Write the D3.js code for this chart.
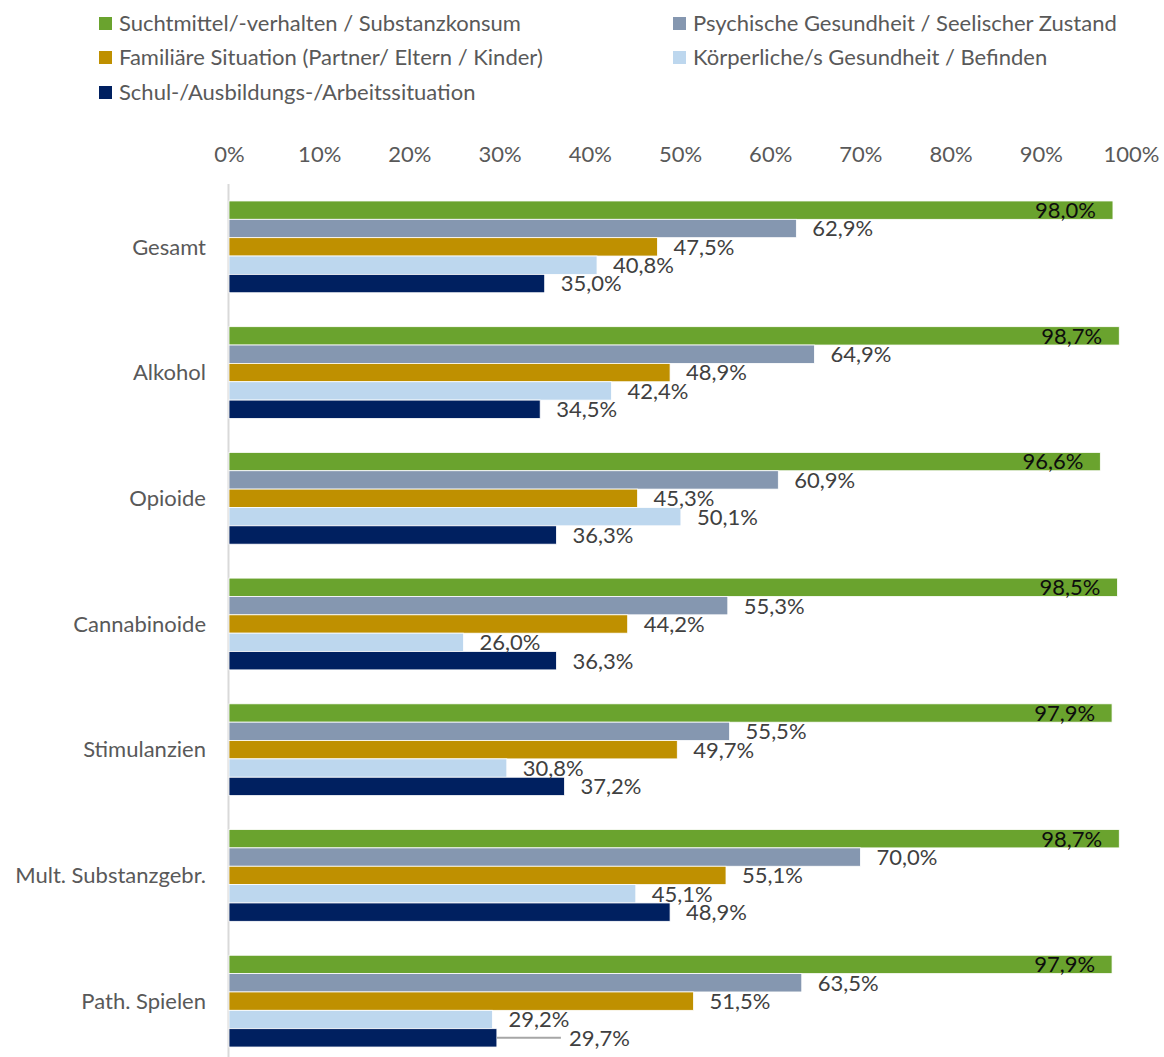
<!DOCTYPE html>
<html><head><meta charset="utf-8">
<script src="https://cdn.jsdelivr.net/npm/d3@7"></script>
<style>
body{margin:0;background:#fff;}
svg text{font-family:Lato,"Open Sans",sans-serif;}
</style></head>
<body><svg id="c" width="1164" height="1057"></svg>
<script>
const categories = ["Gesamt","Alkohol","Opioide","Cannabinoide","Stimulanzien","Mult. Substanzgebr.","Path. Spielen"];
const seriesNames = ["Suchtmittel/-verhalten / Substanzkonsum","Psychische Gesundheit / Seelischer Zustand","Familiäre Situation (Partner/ Eltern / Kinder)","Körperliche/s Gesundheit / Befinden","Schul-/Ausbildungs-/Arbeitssituation"];
const seriesColors = ["#6aa32e","#8597b0","#bf9000","#bdd7ee","#002060"];
const sucht      = [98.0, 98.7, 96.6, 98.5, 97.9, 98.7, 97.9];
const psychisch  = [62.9, 64.9, 60.9, 55.3, 55.5, 70.0, 63.5];
const familiaer  = [47.5, 48.9, 45.3, 44.2, 49.7, 55.1, 51.5];
const koerper    = [40.8, 42.4, 50.1, 26.0, 30.8, 45.1, 29.2];
const schule     = [35.0, 34.5, 36.3, 36.3, 37.2, 48.9, 29.7];
const seriesValues = [sucht, psychisch, familiaer, koerper, schule];
const tickValues = [0,10,20,30,40,50,60,70,80,90,100];

const svg = d3.select("#c");
const fmt = v => v.toFixed(1).replace(".", ",") + "%";
const fs = 22;

// legend
const legendPos = [[99,23.5],[673,23.5],[99,57.5],[673,57.5],[99,92.5]];
seriesNames.forEach((n,i)=>{
  const [lx,ly] = legendPos[i];
  svg.append("rect").attr("x",lx).attr("y",ly-6.5).attr("width",13).attr("height",13).attr("fill",seriesColors[i]);
  svg.append("text").attr("x",lx+20).attr("y",ly).attr("dy","0.35em")
    .attr("font-size",fs).attr("fill","#595959").text(n);
});

const x = d3.scaleLinear().domain([0,100]).range([229,1131]);
const y = d3.scaleBand().domain(categories).range([184,1064]).paddingInner(0.27).paddingOuter(0.135);
const yi = d3.scaleBand().domain(d3.range(5)).range([0,y.bandwidth()]);

// top axis
const ax = svg.append("g").attr("transform","translate(0,165)")
  .call(d3.axisTop(x).tickValues(tickValues).tickFormat(d=>d+"%").tickSize(0).tickPadding(0));
ax.select(".domain").remove();
ax.selectAll("text").attr("font-size",fs).attr("fill","#595959").attr("font-family","Lato,'Open Sans',sans-serif")
  .attr("dy","0").attr("y",-3);

// vertical axis line
svg.append("line").attr("x1",228.5).attr("x2",228.5).attr("y1",184).attr("y2",1057)
  .attr("stroke","#d9d9d9").attr("stroke-width",2);

// category labels
svg.append("g").selectAll("text").data(categories).join("text")
  .attr("x",206).attr("y",d=>y(d)+y.bandwidth()/2).attr("dy","0.35em")
  .attr("text-anchor","end").attr("font-size",fs).attr("fill","#595959").text(d=>d);

// bars
const g = svg.append("g");
seriesValues.forEach((vals,si)=>{
  g.selectAll(null).data(vals).join("rect")
    .attr("x",x(0)).attr("y",(d,ci)=>y(categories[ci])+yi(si))
    .attr("width",d=>x(d)-x(0)).attr("height",yi.bandwidth())
    .attr("fill",seriesColors[si]).attr("stroke","#fff").attr("stroke-width",0.8);
});

// labels
const moved = {cat:"Path. Spielen", series:4, shift:72};
seriesValues.forEach((vals,si)=>{
  vals.forEach((v,ci)=>{
    const cy = y(categories[ci])+yi(si)+yi.bandwidth()/2;
    if(si===0){
      svg.append("text").attr("x",x(v)-17).attr("y",cy).attr("dy","0.36em")
        .attr("text-anchor","end").attr("font-size",fs).attr("fill","#0d0d0d").text(fmt(v));
    } else {
      let lx = x(v)+16;
      if(categories[ci]===moved.cat && si===moved.series){
        lx = x(v)+moved.shift;
        svg.append("line").attr("x1",x(v)).attr("x2",lx-8).attr("y1",cy).attr("y2",cy)
          .attr("stroke","#a6a6a6").attr("stroke-width",2);
      }
      svg.append("text").attr("x",lx).attr("y",cy).attr("dy","0.36em")
        .attr("font-size",fs).attr("fill","#404040").text(fmt(v));
    }
  });
});
</script></body></html>
